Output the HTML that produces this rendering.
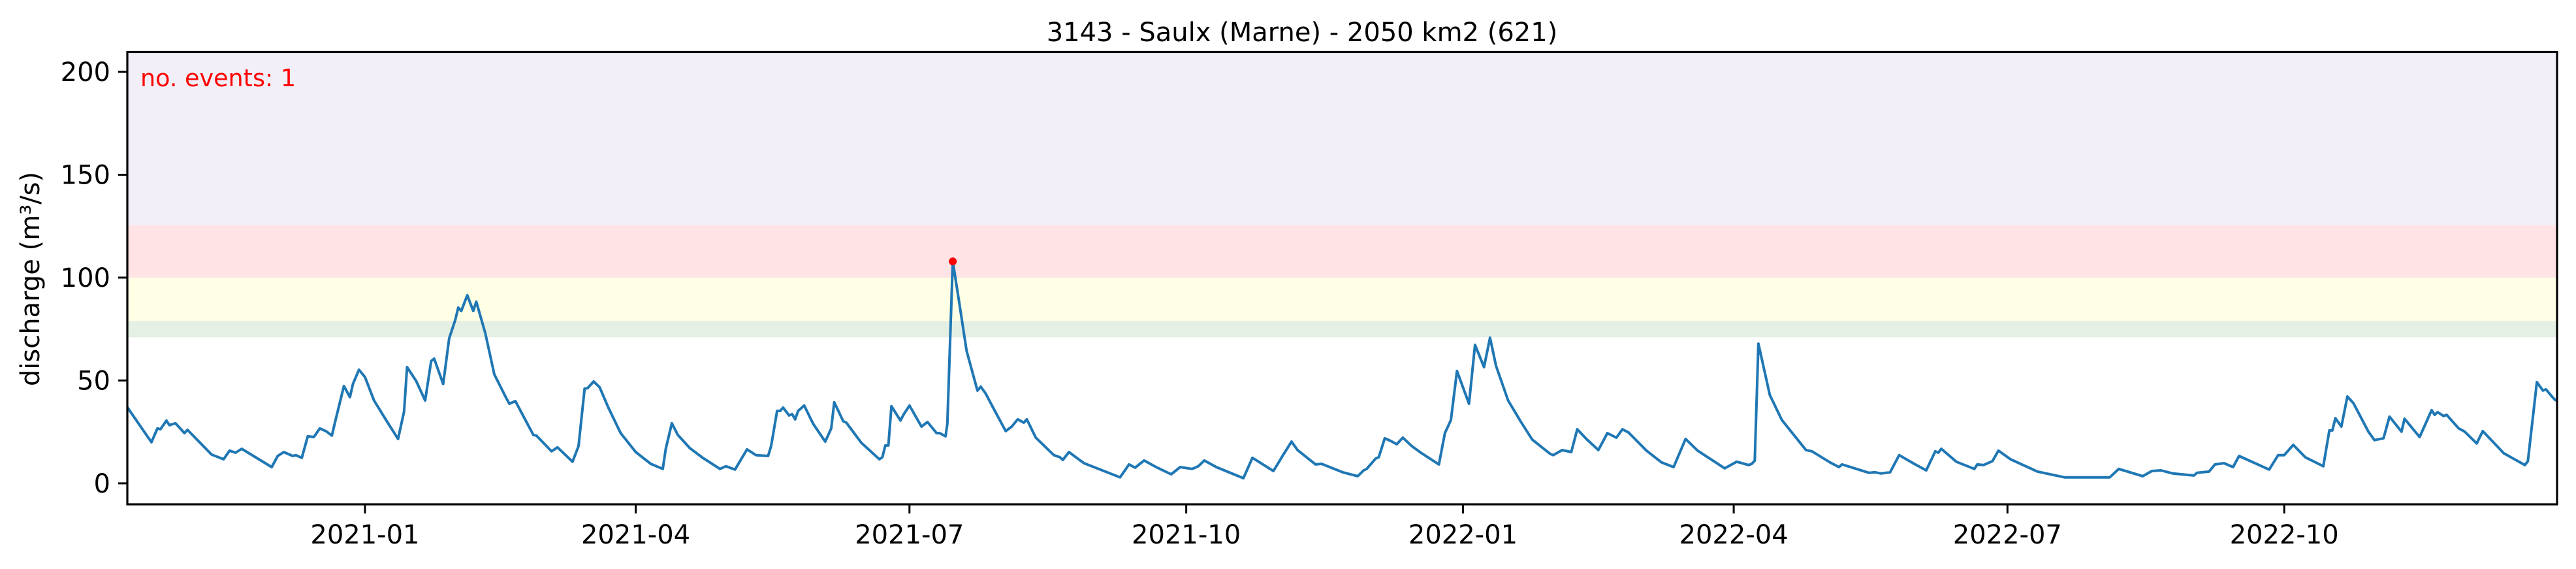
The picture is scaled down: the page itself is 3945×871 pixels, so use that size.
<!DOCTYPE html>
<html><head><meta charset="utf-8"><title>3143 - Saulx (Marne)</title>
<style>
html,body{margin:0;padding:0;background:#fff;}
svg{display:block;font-family:"DejaVu Sans","Liberation Sans",sans-serif;}
</style></head>
<body>
<svg id="chart" width="3945" height="871" viewBox="0 0 3945 871" xmlns="http://www.w3.org/2000/svg">
<g id="bands"></g>
<g id="series"></g>
<g id="axes"></g>
<text x="1994" y="63" font-size="40" text-anchor="middle" fill="#000">3143 - Saulx (Marne) - 2050 km2 (621)</text>
<text x="215" y="132" font-size="36.5" fill="#ff0000">no. events: 1</text>
<text transform="translate(60,427) rotate(-90)" font-size="40" text-anchor="middle" fill="#000">discharge (m³/s)</text>
</svg>
<script>
// days since 2020-10-14
const days = [0,8,10,11,13,14,16,19,20,28,32,34,36,38,48,50,52,55,56,58,60,62,64,66,68,69,72,74,75,77,79,82,86,90,92,93,96,99,101,102,105,107,109,110,111,113,115,116,119,122,126,127,129,132,135,136,141,143,148,150,152,153,155,157,160,164,169,174,178,179,181,183,187,191,197,199,202,206,209,213,214,216,217,218,220,221,222,223,225,228,232,234,235,238,239,244,250,251,252,253,254,257,258,260,264,266,269,270,272,272.6,274.4,276.5,279,282.6,283.7,285.4,287,292,294,296,298,299,302,308,310,311,313,318,330,333,335,338,342,347,350,354,356,358,362,371,374,381,384,387,389,395,397,404,409,411,412,415,416,418,420,422,424,427,430,436,438,440,442,446,448,451,453,455,459,463,467,473,474,477,480,482,485,489,492,495,497,499,505,510,514,518,522,528,531,535,539,540,541,542.2,546,550,558,560,566,569,570,579,581,583,586,589,594,598,601,602,603,608,614,615,617,620,622,626,635,644,659,662,670,673,676,680,687,688,692,694,697,700,702,712,715,717,720,724,730,732,733,734,736,738,740,745,747,750,752,756,757,762,766,767,768,770,771,775,777,781,783,790,797,798,801,803,804,806,807,808];
const discharge = [37,20,26.7,26.3,30.5,28.3,29.2,24.4,26,14,11.7,15.9,14.9,16.8,7.9,13.3,15.2,13.3,13.7,12.4,22.9,22.5,26.7,25.4,23.2,29.5,47.3,41.9,48.3,55.2,51.7,40.3,30.8,21.6,34.9,56.5,49.8,40.3,59.4,60.6,48.3,70.5,79.4,85.4,83.8,91.4,83.8,88.3,73,53,41.3,38.7,40,31.7,23.5,23.2,15.6,17.5,10.5,18.1,46,46.3,49.5,46.7,36.5,24.4,15.2,9.5,7,16.8,29.2,23.5,17.1,12.7,7,8.3,6.7,16.5,13.7,13.3,18.1,35.2,35.2,36.8,33,33.7,31.1,35.2,37.8,28.9,20.3,26.7,39.4,30.2,29.5,19.7,11.7,12.7,18.4,18.4,37.5,30.5,33.3,37.8,27.6,29.8,24.4,24.4,22.9,28.9,107.9,88.3,64.4,45.1,47,43.5,39,25.4,27.6,31.1,29.5,31.1,22.2,13.7,12.7,11.4,15.2,9.8,2.9,9.2,7.6,11.1,7.9,4.4,7.9,7,8.3,11.1,7.9,2.5,12.4,6,13.3,20.3,16.2,9.2,9.5,5.4,3.5,6.3,7,12.1,12.7,21.9,20.6,19,22.2,18.1,14.9,9.2,24.4,30.8,54.6,38.7,67.3,56.5,70.8,57.1,40.3,30.5,21.3,14.3,13.7,16.2,15.2,26.3,21.6,16.2,24.4,22.2,26.3,24.8,15.9,10.2,7.9,21.6,15.9,10.2,7.3,10.5,8.9,9.5,11,67.9,42.9,30.8,16.2,15.6,10.2,7.9,9.2,5.1,5.4,4.8,5.4,13.7,9.5,6.3,15.6,14.9,16.8,10.5,7,9.2,8.9,10.8,15.9,11.7,5.7,2.9,2.9,7,3.5,6,6.3,4.8,3.8,5.1,5.7,9.2,9.8,7.9,13.3,6.7,13.7,13.7,18.7,12.7,8.3,25.7,25.7,31.7,27.6,42.2,39,25.1,21,21.9,32.4,25.1,31.4,22.5,35.6,33.3,34.6,32.7,33.3,26.7,25.1,19.4,25.4,14.6,8.9,10.8,49.2,45.1,45.7,42.2,40.6,40];
const eventDays = [274.4];
const eventValues = [107.9];
const bandLows = [71, 79, 100, 125.6];
const bandHighs = [79, 100, 125.6, 210];
const bandColors = ["#e5f0e4", "#ffffe5", "#ffe3e5", "#f2eff9"];
const bandNames = ["band-green", "band-yellow", "band-red", "band-purple"];
const yTicks = [0, 50, 100, 150, 200];
const xTickLabels = ["2021-01","2021-04","2021-07","2021-10","2022-01","2022-04","2022-07","2022-10"];

const NS = "http://www.w3.org/2000/svg";
const L = 195, R = 3916, T = 79.5, B = 772;
const dMin = 0, dMax = 807.7, yMin = -10.2, yMax = 209.7;
const start = Date.UTC(2020, 9, 14);
function xs(d){ return L + (d - dMin) / (dMax - dMin) * (R - L); }
function ys(v){ return B - (v - yMin) / (yMax - yMin) * (B - T); }
function mk(tag, attrs, parent){ const e = document.createElementNS(NS, tag); for (const k in attrs) e.setAttribute(k, attrs[k]); parent.appendChild(e); return e; }

const bandsG = document.getElementById('bands');
for (let i = 0; i < bandLows.length; i++) {
  const r = mk('rect', {x: L, y: ys(bandHighs[i]), width: R - L, height: ys(bandLows[i]) - ys(bandHighs[i]), fill: bandColors[i]}, bandsG);
  
  
}

const seriesG = document.getElementById('series');
const clip = mk('clipPath', {id: 'plotclip'}, seriesG);
mk('rect', {x: L, y: T, width: R - L, height: B - T}, clip);
let dStr = '';
for (let i = 0; i < days.length; i++) dStr += (i ? 'L' : 'M') + xs(days[i]).toFixed(1) + ' ' + ys(discharge[i]).toFixed(1);
const line = mk('path', {d: dStr, fill: 'none', stroke: '#1f77b4', 'stroke-width': 4, 'stroke-linejoin': 'round', 'clip-path': 'url(#plotclip)'}, seriesG);


for (let i = 0; i < eventDays.length; i++) {
  const c = mk('circle', {cx: xs(eventDays[i]), cy: ys(eventValues[i]), r: 6, fill: '#ff0000'}, seriesG);
  
  
}

const axesG = document.getElementById('axes');
for (const v of yTicks) {
  const y = ys(v);
  const t = mk('line', {x1: L - 14, x2: L, y1: y, y2: y, stroke: '#000', 'stroke-width': 3}, axesG);
  
  
  const lb = mk('text', {x: L - 26, y: y + 14, 'font-size': 40, 'text-anchor': 'end', fill: '#000'}, axesG);
  lb.textContent = String(v);
  
  
}
for (const s of xTickLabels) {
  const [yy, mm] = s.split('-').map(Number);
  const d = (Date.UTC(yy, mm - 1, 1) - start) / 86400000;
  const x = xs(d);
  const t = mk('line', {x1: x, x2: x, y1: B, y2: B + 14, stroke: '#000', 'stroke-width': 3}, axesG);
  
  
  const lb = mk('text', {x: x, y: 832, 'font-size': 40, 'text-anchor': 'middle', fill: '#000'}, axesG);
  lb.textContent = s;
  
  
}
const frame = mk('rect', {x: L, y: T, width: R - L, height: B - T, fill: 'none', stroke: '#000', 'stroke-width': 3.2}, axesG);


</script>
</body></html>
